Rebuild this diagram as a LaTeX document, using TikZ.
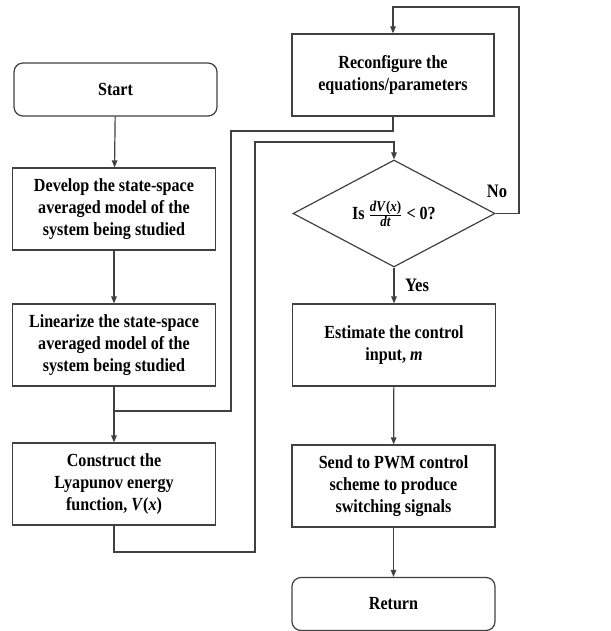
\documentclass[tikz,border=0pt]{standalone}
\usepackage{fontspec}
\setmainfont{Liberation Serif}[FakeStretch=0.87]
\usetikzlibrary{shapes.geometric,arrows.meta,positioning}
\newcommand{\bi}[1]{\textbf{\textit{#1}}}
\newcommand{\smallfr}[1]{\mbox{\fontsize{15}{16}\selectfont #1}}
\begin{document}
\begin{tikzpicture}[x=1pt,y=-1pt,
  line width=1.2pt,
  every node/.style={font=\bfseries\fontsize{18.5}{22}\selectfont, text=black},
  box/.style={draw=black!75, rectangle, minimum width=203pt, minimum height=82pt, align=center, inner sep=2pt},
  term/.style={draw=black!75, rectangle, rounded corners=9pt, minimum width=203pt, minimum height=53pt, align=center},
  dec/.style={draw=black!75, diamond, aspect=1.9, minimum width=202pt, minimum height=107pt, inner sep=0pt, align=center},
  conn/.style={draw=black!75},
  arr/.style={draw=black!75, -{Triangle[length=7pt,width=5.5pt]}},
  lab/.style={font=\bfseries\fontsize{19}{22}\selectfont}
]
\useasboundingbox (0,0) rectangle (610,631);
\node[term] (start) at (115.5,89.5) {Start};
\node[box] (dev) at (114,209) {Develop the state-space\\averaged model of the\\system being studied};
\node[box] (lin) at (114,345) {Linearize the state-space\\averaged model of the\\system being studied};
\node[box] (con) at (114,484) {Construct the\\Lyapunov energy\\function, \bi{V}(\bi{x})};
\node[box, minimum width=202pt] (rec) at (393,75) {Reconfigure the\\equations/parameters};
\node[dec] (dia) at (394,213.5) {Is \(\frac{\smallfr{\bi{dV}(\bi{x})}}{\smallfr{\bi{dt}}}\) < 0?};
\node[box] (est) at (394,345) {Estimate the control\\input, \bi{m}};
\node[box] (send) at (393.5,486) {Send to PWM control\\scheme to produce\\switching signals};
\node[term] (ret) at (393.5,604) {Return};

\coordinate (j1) at (114,411);
\coordinate (c1) at (231,131);
\coordinate (c2) at (255,552);
\coordinate (c3) at (255,142);
\coordinate (c4) at (519,7);

\draw[arr] (start) -- (dev);
\draw[arr] (dev) -- (lin);
\draw[arr] (lin) -- (con);
\draw[conn] (rec.south) |- (c1) |- (j1);
\draw[arr] (con.south) |- (c2) -- (c3) -| (dia.north);
\draw[arr] (dia.east) -| (c4) -| (rec.north);
\draw[arr] (dia.south) -- (est.north);
\draw[arr] (est) -- (send);
\draw[arr] (send) -- (ret);

\node[lab] (no) at (497,191) {No};
\node[lab] (yes) at (417,285) {Yes};
\end{tikzpicture}
\end{document}
